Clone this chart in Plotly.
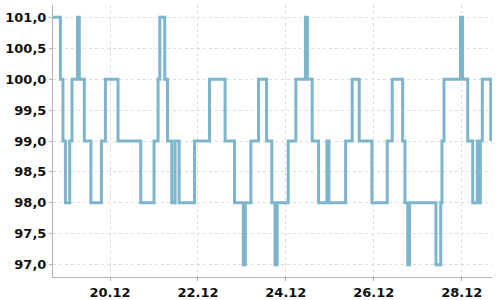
import plotly.graph_objects as go

# change points of the stepped series (time, value)
times = [
    "2023-12-18 16:52", "2023-12-18 20:54", "2023-12-18 22:19", "2023-12-18 23:38",
    "2023-12-19 01:59", "2023-12-19 03:14", "2023-12-19 06:14", "2023-12-19 07:14",
    "2023-12-19 09:58", "2023-12-19 13:34", "2023-12-19 19:18", "2023-12-19 21:29",
    "2023-12-20 04:22", "2023-12-20 16:46", "2023-12-21 00:02", "2023-12-21 02:14",
    "2023-12-21 03:10", "2023-12-21 05:53", "2023-12-21 07:22", "2023-12-21 09:43",
    "2023-12-21 11:31", "2023-12-21 13:42", "2023-12-21 22:07", "2023-12-22 06:19",
    "2023-12-22 14:50", "2023-12-22 19:58", "2023-12-23 00:47", "2023-12-23 01:52",
    "2023-12-23 04:53", "2023-12-23 09:05", "2023-12-23 13:28", "2023-12-23 16:21",
    "2023-12-23 18:06", "2023-12-23 19:15", "2023-12-24 01:16", "2023-12-24 05:28",
    "2023-12-24 10:40", "2023-12-24 11:45", "2023-12-24 14:22", "2023-12-24 17:52",
    "2023-12-24 22:24", "2023-12-24 23:30", "2023-12-25 08:37", "2023-12-25 12:14",
    "2023-12-25 16:03", "2023-12-25 22:59", "2023-12-26 07:21", "2023-12-26 10:05",
    "2023-12-26 15:46", "2023-12-26 17:01", "2023-12-26 18:33", "2023-12-26 19:29",
    "2023-12-27 09:58", "2023-12-27 12:32", "2023-12-27 13:14", "2023-12-27 14:20",
    "2023-12-27 23:21", "2023-12-28 00:26", "2023-12-28 03:17", "2023-12-28 06:01",
    "2023-12-28 08:31", "2023-12-28 09:20", "2023-12-28 10:10", "2023-12-28 11:16",
    "2023-12-28 15:51",
]
values = [
    101, 100, 99, 98,
    99, 100, 101, 100,
    99, 98, 99, 100,
    99, 98, 99, 100,
    101, 100, 99, 98,
    99, 98, 99, 100,
    99, 98, 97, 98,
    99, 100, 99, 98,
    97, 98, 99, 100,
    101, 100, 99, 98,
    99, 98, 99, 100,
    99, 98, 99, 100,
    99, 98, 97, 98,
    97, 98, 99, 100,
    101, 100, 99, 98,
    99, 98, 99, 100,
    99,
]

x_range = ["2023-12-18 16:52", "2023-12-28 16:33"]
y_range = [96.8, 101.2]
x_ticks = ["2023-12-20", "2023-12-22", "2023-12-24", "2023-12-26", "2023-12-28"]
x_ticklabels = ["20.12", "22.12", "24.12", "26.12", "28.12"]

line_color = "#7db5cc"
grid_color = "#dddddd"
axis_color = "#b4b4b4"

fig = go.Figure()
fig.add_trace(go.Scatter(
    x=times, y=values, mode="lines", line_shape="hv",
    line=dict(color=line_color, width=3), showlegend=False,
))

tickfont = dict(family="DejaVu Sans", size=13, color="#111111", weight="bold")

fig.update_layout(
    width=500, height=300,
    margin=dict(l=53, r=8, t=5, b=23),
    paper_bgcolor="white", plot_bgcolor="white",
    separators=",.",
    showlegend=False,
)
fig.update_xaxes(
    range=x_range, tickmode="array", tickvals=x_ticks, ticktext=x_ticklabels,
    showgrid=True, gridcolor=grid_color, griddash="3px,3px", gridwidth=1,
    showline=True, linecolor=axis_color, linewidth=1,
    ticks="outside", ticklen=3, tickcolor=axis_color,
    tickfont=tickfont, zeroline=False, automargin=False,
)
fig.update_yaxes(
    range=y_range, dtick=0.5, tick0=97, tickformat=".1f",
    showgrid=True, gridcolor=grid_color, griddash="3px,3px", gridwidth=1,
    showline=True, linecolor=axis_color, linewidth=1,
    ticks="outside", ticklen=3, tickcolor=axis_color,
    tickfont=tickfont, zeroline=False, automargin=False,
)

fig.write_html("out.html")
